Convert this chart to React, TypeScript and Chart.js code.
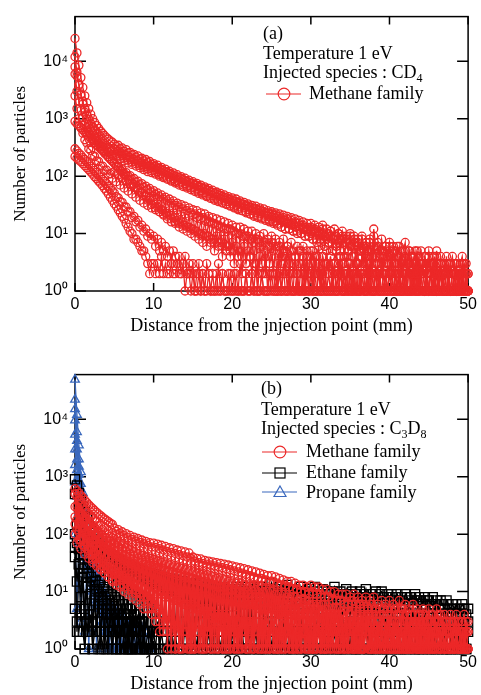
import React, { useEffect, useRef } from 'react';
import { Chart, registerables } from 'chart.js';

Chart.register(...registerables);

// ---------- axes ----------
const DIST = [
  0, 0.25, 0.5, 0.75, 1, 1.25, 1.5, 1.75, 2, 2.25, 2.5, 2.75, 3, 3.25, 3.5, 3.75, 4, 4.25, 4.5, 4.75,
  5, 5.25, 5.5, 5.75, 6, 6.25, 6.5, 6.75, 7, 7.25, 7.5, 7.75, 8, 8.25, 8.5, 8.75, 9, 9.25, 9.5, 9.75,
  10, 10.25, 10.5, 10.75, 11, 11.25, 11.5, 11.75, 12, 12.25, 12.5, 12.75, 13, 13.25, 13.5, 13.75, 14, 14.25, 14.5, 14.75,
  15, 15.25, 15.5, 15.75, 16, 16.25, 16.5, 16.75, 17, 17.25, 17.5, 17.75, 18, 18.25, 18.5, 18.75, 19, 19.25, 19.5, 19.75,
  20, 20.25, 20.5, 20.75, 21, 21.25, 21.5, 21.75, 22, 22.25, 22.5, 22.75, 23, 23.25, 23.5, 23.75, 24, 24.25, 24.5, 24.75,
  25, 25.25, 25.5, 25.75, 26, 26.25, 26.5, 26.75, 27, 27.25, 27.5, 27.75, 28, 28.25, 28.5, 28.75, 29, 29.25, 29.5, 29.75,
  30, 30.25, 30.5, 30.75, 31, 31.25, 31.5, 31.75, 32, 32.25, 32.5, 32.75, 33, 33.25, 33.5, 33.75, 34, 34.25, 34.5, 34.75,
  35, 35.25, 35.5, 35.75, 36, 36.25, 36.5, 36.75, 37, 37.25, 37.5, 37.75, 38, 38.25, 38.5, 38.75, 39, 39.25, 39.5, 39.75,
  40, 40.25, 40.5, 40.75, 41, 41.25, 41.5, 41.75, 42, 42.25, 42.5, 42.75, 43, 43.25, 43.5, 43.75, 44, 44.25, 44.5, 44.75,
  45, 45.25, 45.5, 45.75, 46, 46.25, 46.5, 46.75, 47, 47.25, 47.5, 47.75, 48, 48.25, 48.5, 48.75, 49, 49.25, 49.5, 49.75,
  50,
];
const X_TICKS = [0, 10, 20, 30, 40, 50];
const Y_TICKS = [1, 10, 100, 1000, 10000];
const Y_TICK_LABELS = ['10\u2070', '10\u00B9', '10\u00B2', '10\u00B3', '10\u2074'];
const X_TITLE = 'Distance from the jnjection point (mm)';
const Y_TITLE = 'Number of particles';

// ---------- panel (a): CD4 injection, methane family ----------
const A_M1 = [
  25000, 14000, 8500, 5200, 3500, 2500, 1900, 1500, 1200, 1000, 860, 760, 680, 610, 560, 510, 470, 440, 410, 390,
  360, 330, 345, 300, 310, 270, 290, 255, 260, 235, 240, 215, 225, 200, 205, 185, 195, 172, 180, 160,
  165, 148, 155, 136, 142, 125, 133, 118, 122, 108, 114, 100, 106, 94, 98, 87, 92, 81, 85, 76,
  80, 71, 75, 66, 70, 62, 65, 58, 61, 54, 57, 51, 53, 47, 50, 44, 47, 42, 44, 39,
  42, 37, 40, 35, 37, 33, 35, 31, 33, 29, 31, 28, 30, 26, 28, 25, 27, 23, 25, 22,
  24, 21, 23, 20, 22, 18, 21, 17, 20, 16, 19, 15, 18, 15, 17, 14, 16, 13, 15, 12,
  15, 12, 14, 11, 13, 10, 14, 9, 12, 10, 11, 8, 12, 9, 10, 8, 11, 7, 9, 8,
  10, 6, 9, 7, 8, 5, 9, 6, 7, 5, 8, 4, 12, 6, 7, 4, 8, 5, 6, 4,
  7, 3, 6, 5, 4, 6, 3, 5, 7, 2, 5, 4, 3, 5, 2, 4, 5, 3, 4, 2,
  5, 3, 4, 2, 5, 1, 4, 3, 2, 4, 1, 3, 4, 2, 3, 1, 3, 4, 2, 3,
  2,
];
const A_M2 = [
  8000, 5500, 3800, 2700, 2000, 1500, 1200, 980, 820, 700, 610, 540, 480, 440, 400, 370, 340, 318, 296, 278,
  262, 240, 250, 222, 228, 205, 212, 190, 196, 176, 182, 164, 170, 152, 158, 142, 148, 133, 138, 124,
  128, 114, 120, 106, 111, 99, 104, 92, 97, 86, 90, 80, 84, 75, 79, 70, 74, 66, 69, 62,
  64, 57, 60, 53, 56, 50, 52, 46, 49, 43, 46, 40, 43, 38, 40, 35, 38, 33, 36, 31,
  33, 29, 31, 27, 29, 25, 28, 24, 26, 22, 25, 21, 23, 20, 22, 19, 21, 18, 20, 17,
  18, 16, 17, 15, 17, 13, 16, 12, 15, 12, 14, 11, 13, 11, 12, 10, 12, 9, 11, 9,
  10, 8, 11, 7, 9, 8, 10, 6, 8, 7, 9, 5, 8, 6, 7, 5, 8, 4, 7, 5,
  6, 4, 7, 3, 6, 5, 4, 6, 3, 5, 4, 2, 6, 4, 3, 5, 2, 4, 5, 3,
  4, 2, 5, 3, 1, 4, 3, 2, 5, 1, 3, 4, 2, 3, 1, 4, 2, 3, 1, 3,
  2, 3, 1, 4, 2, 1, 3, 2, 1, 3, 2, 1, 2, 3, 1, 2, 1, 3, 1, 2,
  1,
];
const A_M3 = [
  12000, 6500, 4000, 2600, 1800, 1300, 1000, 800, 660, 560, 480, 420, 370, 330, 295, 265, 240, 218, 200, 184,
  170, 150, 148, 128, 130, 112, 115, 100, 102, 88, 91, 79, 82, 71, 74, 64, 67, 58, 61, 53,
  56, 48, 51, 44, 47, 40, 43, 37, 40, 34, 37, 31, 34, 29, 32, 27, 30, 25, 28, 23,
  26, 22, 25, 20, 23, 19, 22, 18, 20, 16, 19, 15, 18, 14, 17, 13, 16, 12, 15, 12,
  14, 11, 13, 10, 13, 9, 12, 9, 11, 8, 11, 7, 10, 8, 9, 6, 10, 7, 8, 6,
  9, 5, 8, 6, 7, 4, 8, 5, 6, 3, 7, 5, 4, 6, 3, 5, 6, 2, 5, 4,
  3, 5, 2, 4, 6, 1, 4, 3, 5, 2, 4, 1, 3, 5, 2, 4, 1, 3, 4, 2,
  3, 1, 4, 2, 3, 1, 5, 2, 1, 3, 2, 4, 1, 2, 3, 1, 4, 2, 1, 3,
  2, 1, 3, 1, 2, 4, 1, 2, 1, 3, 2, 1, 3, 1, 2, 1, 3, 2, 1, 2,
  1, 3, 1, 2, 1, 2, 3, 1, 2, 1, 1, 3, 1, 2, 1, 2, 1, 1, 3, 1,
  2,
];
const A_M4 = [
  900, 820, 760, 690, 640, 580, 540, 490, 455, 415, 385, 350, 325, 298, 276, 252, 234, 214, 198, 182,
  168, 150, 142, 126, 120, 106, 101, 89, 85, 75, 72, 63, 61, 53, 52, 45, 44, 38, 38, 32,
  33, 28, 29, 24, 26, 21, 23, 18, 21, 16, 19, 15, 17, 13, 16, 12, 14, 11, 13, 10,
  12, 9, 11, 8, 10, 7, 10, 6, 9, 7, 8, 5, 9, 6, 7, 4, 8, 5, 6, 4,
  7, 3, 6, 4, 5, 2, 6, 3, 5, 4, 2, 5, 3, 1, 4, 3, 2, 5, 1, 3,
  4, 2, 1, 3, 5, 1, 2, 4, 1, 3, 2, 1, 4, 2, 1, 3, 1, 2, 4, 1,
  2, 3, 1, 1, 4, 2, 1, 3, 1, 2, 1, 3, 2, 1, 1, 4, 1, 2, 1, 3,
  1, 2, 1, 3, 1, 1, 2, 1, 4, 1, 2, 1, 1, 3, 1, 2, 1, 1, 2, 1,
  3, 1, 1, 2, 1, 1, 3, 1, 2, 1, 1, 2, 1, 3, 1, 1, 2, 1, 1, 2,
  1, 1, 3, 1, 2, 1, 1, 2, 1, 1, 3, 1, 1, 2, 1, 1, 2, 1, 3, 1,
  1,
];
const A_M5 = [
  300, 275, 250, 232, 210, 195, 178, 164, 150, 138, 126, 116, 106, 97, 88, 81, 74, 67, 61, 56,
  51, 44, 42, 36, 35, 29, 29, 24, 24, 19, 20, 16, 17, 13, 14, 11, 12, 9, 10, 8,
  9, 6, 8, 5, 7, 5, 6, 4, 5, 3, 5, 4, 3, 4, 2, 3, 4, 2, 3, 2,
  3, 1, 2, 3, 1, 2, 1, 3, 2, 1, 2, 1, 1, 3, 1, 2, 1, 1, 2, 1,
  1, 2, 1, 1, 3, 1, 1, 2, 1, 1, 2, 1, 3, 1, 1, 2, 1, 1, 1, 2,
  1, 1, 2, 1, 1, 1, 3, 1, 1, 2, 1, 1, 1, 2, 1, 1, 2, 1, 1, 1,
  2, 1, 1, 1, 2, 1, 1, 3, 1, 1, 1, 2, 1, 1, 2, 1, 1, 1, 2, 1,
  1, 1, 2, 1, 1, 1, 2, 1, 1, 1, 3, 1, 1, 2, 1, 1, 1, 2, 1, 1,
  1, 2, 1, 1, 1, 2, 1, 1, 2, 1, 1, 1, 2, 1, 1, 3, 1, 1, 1, 2,
  1, 1, 1, 2, 1, 1, 2, 1, 1, 1, 2, 1, 1, 1, 2, 1, 1, 2, 1, 1,
  1,
];
const A_M6 = [
  220, 205, 190, 178, 165, 152, 140, 129, 118, 108, 98, 90, 82, 75, 68, 61, 55, 49, 43, 38,
  33, 30, 26, 23, 20, 18, 15, 13, 11, 10, 8, 8, 7, 6, 5, 5, 4, 3, 2, 3,
  3, 2, 3, 2, 4, 2, 3, 2, 2, 3, 2, 2, 3, 2, 2, 3, 1, 2, 2, 1,
  2, 1, 1, 2, 1, 2, 1, 1, 2, 1, 1, 1, 2, 1, 1, 2, 1, 1, 1, 2,
  1, 1, 2, 1, 1, 1, 1, 2, 1, 1, 2, 1, 1, 1, 1, 2, 1, 1, 1, 1,
  2, 1, 1, 1, 2, 1, 1, 1, 1, 2, 1, 1, 1, 2, 1, 1, 1, 1, 2, 1,
  1, 1, 2, 1, 1, 1, 2, 1, 1, 1, 1, 2, 1, 1, 1, 2, 1, 1, 1, 1,
  2, 1, 1, 1, 1, 2, 1, 1, 1, 2, 1, 1, 1, 1, 2, 1, 1, 1, 2, 1,
  1, 1, 1, 2, 1, 1, 1, 2, 1, 1, 1, 1, 2, 1, 1, 1, 2, 1, 1, 1,
  1, 2, 1, 1, 1, 1, 2, 1, 1, 1, 2, 1, 1, 1, 1, 2, 1, 1, 1, 2,
  1,
];
const A_M7 = [
  6000, 3000, 2000, 1400, 1050, 820, 700, 580, 520, 440, 420, 360, 370, 320, 330, 280, 300, 260, 275, 240,
  300, 220, 270, 200, 245, 185, 230, 170, 210, 160, 195, 150, 185, 140, 170, 130, 160, 120, 150, 115,
  150, 108, 138, 100, 128, 94, 120, 88, 112, 82, 104, 76, 97, 70, 90, 66, 84, 62, 78, 58,
  74, 54, 69, 50, 64, 47, 60, 44, 56, 41, 52, 38, 49, 36, 46, 34, 43, 32, 40, 30,
  38, 28, 36, 26, 34, 25, 32, 23, 30, 22, 28, 20, 27, 19, 25, 18, 24, 17, 23, 16,
  22, 15, 21, 14, 20, 13, 19, 12, 18, 12, 17, 11, 16, 10, 15, 10, 14, 9, 13, 9,
  13, 8, 12, 8, 11, 7, 12, 6, 10, 7, 11, 5, 9, 6, 10, 5, 9, 4, 8, 5,
  9, 4, 8, 3, 7, 5, 8, 3, 6, 4, 7, 2, 9, 3, 6, 4, 5, 2, 6, 3,
  6, 2, 5, 3, 6, 1, 5, 2, 4, 3, 5, 1, 4, 2, 5, 1, 3, 2, 4, 1,
  4, 2, 3, 1, 4, 2, 3, 1, 3, 2, 1, 3, 2, 1, 3, 1, 2, 3, 1, 2,
  1,
];
const A_M8 = [
  2500, 1500, 1000, 700, 560, 430, 380, 300, 280, 230, 220, 185, 180, 150, 150, 125, 128, 108, 110, 92,
  120, 80, 105, 70, 92, 62, 82, 55, 72, 49, 64, 43, 57, 38, 51, 34, 46, 31, 41, 28,
  44, 26, 40, 24, 36, 22, 33, 20, 30, 18, 28, 16, 26, 15, 24, 14, 22, 13, 20, 12,
  21, 11, 19, 10, 18, 9, 17, 9, 16, 8, 15, 7, 14, 7, 13, 6, 12, 6, 12, 5,
  11, 5, 10, 4, 10, 4, 9, 3, 9, 4, 8, 3, 8, 2, 7, 3, 7, 2, 6, 3,
  7, 2, 6, 1, 6, 3, 5, 2, 6, 1, 5, 2, 4, 1, 5, 2, 4, 1, 4, 2,
  5, 1, 4, 2, 3, 1, 4, 1, 3, 2, 4, 1, 3, 1, 3, 2, 3, 1, 2, 1,
  3, 1, 2, 1, 3, 1, 2, 2, 1, 3, 1, 2, 1, 1, 2, 1, 3, 1, 2, 1,
  2, 1, 1, 3, 1, 2, 1, 1, 2, 1, 3, 1, 1, 2, 1, 1, 2, 1, 1, 2,
  1, 2, 1, 1, 3, 1, 1, 2, 1, 1, 2, 1, 1, 2, 1, 1, 1, 2, 1, 1,
  1,
];

// ---------- panel (b): C3D8 injection ----------
const B_METHANE_1 = [
  620, 570, 520, 470, 430, 390, 355, 325, 300, 278, 258, 240, 225, 210, 197, 185, 175, 165, 156, 148,
  128, 112, 120, 102, 110, 94, 102, 87, 95, 81, 89, 76, 84, 72, 79, 68, 75, 64, 71, 60,
  70, 59, 67, 56, 64, 53, 61, 50, 58, 48, 56, 46, 53, 44, 51, 42, 49, 40, 47, 38,
  40, 34, 38, 32, 37, 31, 35, 30, 34, 29, 33, 28, 32, 27, 31, 26, 30, 25, 29, 24,
  28, 23, 27, 22, 26, 21, 25, 20, 24, 19, 23, 18, 22, 17, 21, 17, 20, 16, 19, 15,
  19, 15, 18, 14, 17, 13, 16, 13, 15, 12, 15, 11, 14, 11, 13, 10, 13, 10, 12, 9,
  13, 10, 12, 9, 12, 9, 11, 8, 11, 8, 10, 7, 10, 7, 9, 7, 9, 6, 9, 6,
  8, 6, 9, 5, 8, 6, 7, 5, 8, 5, 7, 4, 8, 5, 6, 4, 7, 5, 6, 4,
  7, 4, 6, 5, 4, 7, 5, 4, 6, 3, 5, 4, 6, 3, 5, 4, 3, 5, 4, 3,
  5, 3, 4, 2, 5, 3, 4, 2, 4, 3, 2, 4, 3, 2, 4, 3, 2, 3, 4, 2,
  3,
];
const B_METHANE_2 = [
  300, 180, 250, 150, 210, 120, 180, 100, 150, 85, 130, 70, 110, 60, 95, 52, 85, 45, 75, 40,
  68, 35, 60, 30, 55, 26, 50, 23, 45, 20, 42, 18, 38, 16, 35, 15, 33, 13, 31, 12,
  29, 11, 27, 10, 26, 9, 24, 9, 23, 8, 22, 7, 21, 7, 20, 6, 19, 6, 18, 5,
  17, 5, 16, 5, 15, 4, 15, 4, 14, 4, 13, 3, 13, 3, 12, 3, 12, 3, 11, 2,
  11, 2, 10, 3, 10, 2, 9, 2, 9, 3, 8, 2, 8, 1, 8, 2, 7, 2, 7, 1,
  7, 2, 6, 1, 6, 2, 6, 1, 5, 2, 5, 1, 5, 2, 5, 1, 4, 2, 4, 1,
  4, 1, 4, 2, 4, 1, 3, 1, 4, 2, 3, 1, 3, 1, 3, 2, 3, 1, 3, 1,
  3, 1, 2, 1, 3, 1, 2, 1, 3, 1, 2, 1, 2, 1, 3, 1, 2, 1, 2, 1,
  2, 1, 3, 1, 2, 1, 2, 1, 2, 1, 3, 1, 2, 1, 2, 1, 2, 1, 2, 1,
  2, 1, 2, 1, 2, 1, 1, 2, 1, 2, 1, 1, 2, 1, 2, 1, 1, 2, 1, 1,
  1,
];
const B_METHANE_3 = [
  150, 70, 110, 55, 85, 45, 70, 38, 58, 32, 48, 28, 40, 24, 35, 21, 30, 18, 26, 16,
  24, 15, 21, 13, 19, 12, 17, 11, 15, 10, 14, 9, 13, 8, 12, 7, 11, 6, 10, 5,
  10, 4, 9, 3, 9, 2, 8, 2, 8, 1, 7, 1, 7, 1, 7, 2, 6, 1, 6, 1,
  6, 1, 5, 2, 5, 1, 5, 1, 5, 1, 4, 2, 4, 1, 4, 1, 4, 1, 4, 1,
  3, 1, 4, 1, 3, 2, 3, 1, 3, 1, 3, 1, 3, 2, 3, 1, 3, 1, 2, 1,
  3, 1, 2, 1, 3, 1, 2, 1, 2, 1, 3, 1, 2, 1, 2, 1, 2, 1, 3, 1,
  2, 1, 2, 1, 2, 1, 2, 1, 1, 2, 1, 2, 1, 2, 1, 1, 2, 1, 2, 1,
  1, 2, 1, 2, 1, 1, 2, 1, 2, 1, 1, 2, 1, 1, 2, 1, 2, 1, 1, 2,
  1, 1, 2, 1, 2, 1, 1, 2, 1, 1, 2, 1, 1, 2, 1, 1, 2, 1, 1, 2,
  1, 2, 1, 1, 2, 1, 1, 2, 1, 1, 1, 2, 1, 1, 2, 1, 1, 1, 2, 1,
  1,
];
const B_METHANE_4 = [
  500, 120, 380, 80, 300, 60, 240, 45, 200, 36, 170, 30, 140, 25, 120, 21, 105, 18, 92, 15,
  85, 13, 75, 12, 68, 10, 60, 9, 55, 8, 50, 7, 46, 6, 43, 5, 40, 5, 38, 4,
  36, 3, 34, 2, 32, 2, 30, 1, 29, 2, 27, 1, 26, 1, 25, 1, 24, 2, 23, 1,
  22, 1, 21, 1, 20, 1, 19, 2, 18, 1, 18, 1, 17, 1, 16, 1, 16, 1, 15, 1,
  14, 1, 14, 1, 13, 1, 13, 1, 12, 2, 12, 1, 11, 1, 11, 1, 10, 1, 10, 1,
  10, 1, 9, 1, 9, 1, 9, 2, 8, 1, 8, 1, 8, 1, 7, 1, 7, 1, 7, 1,
  6, 1, 6, 1, 6, 1, 6, 1, 5, 1, 5, 2, 5, 1, 5, 1, 4, 1, 5, 1,
  4, 1, 5, 1, 4, 1, 4, 1, 4, 2, 4, 1, 4, 1, 3, 1, 4, 1, 3, 1,
  4, 1, 3, 1, 3, 1, 4, 1, 3, 1, 3, 1, 3, 2, 3, 1, 3, 1, 3, 1,
  3, 1, 2, 1, 3, 1, 2, 1, 3, 1, 2, 1, 2, 1, 3, 1, 2, 1, 2, 1,
  2,
];
const B_METHANE_5 = [
  200, 450, 160, 340, 130, 270, 110, 220, 95, 190, 80, 165, 70, 145, 62, 130, 55, 115, 50, 105,
  45, 100, 40, 92, 37, 85, 34, 78, 31, 72, 29, 67, 27, 62, 25, 58, 23, 55, 22, 52,
  21, 50, 20, 47, 19, 45, 18, 43, 17, 41, 16, 39, 15, 37, 14, 35, 13, 34, 13, 32,
  12, 31, 12, 29, 11, 28, 11, 27, 10, 26, 10, 25, 9, 24, 9, 23, 8, 22, 8, 21,
  8, 20, 7, 19, 7, 19, 7, 18, 6, 17, 6, 17, 6, 16, 5, 15, 5, 15, 5, 14,
  5, 14, 4, 13, 4, 13, 4, 12, 4, 12, 3, 11, 3, 11, 3, 10, 3, 10, 3, 9,
  3, 9, 2, 9, 3, 8, 2, 8, 2, 8, 2, 7, 2, 7, 2, 7, 2, 6, 2, 6,
  2, 7, 1, 6, 2, 6, 1, 6, 2, 5, 1, 6, 2, 5, 1, 5, 2, 5, 1, 5,
  2, 5, 1, 5, 1, 4, 2, 5, 1, 4, 1, 4, 2, 4, 1, 4, 1, 4, 2, 3,
  1, 4, 1, 3, 2, 4, 1, 3, 1, 3, 2, 3, 1, 3, 1, 3, 1, 2, 1, 3,
  2,
];
const B_METHANE_6 = [
  100, 300, 80, 220, 65, 170, 55, 140, 45, 115, 38, 95, 32, 82, 28, 72, 25, 64, 22, 58,
  20, 52, 18, 47, 16, 43, 14, 40, 12, 37, 11, 34, 10, 32, 9, 30, 8, 28, 7, 27,
  6, 26, 5, 24, 4, 23, 3, 22, 3, 21, 2, 20, 2, 19, 1, 18, 2, 18, 1, 17,
  1, 16, 2, 16, 1, 15, 1, 14, 2, 14, 1, 13, 1, 13, 2, 12, 1, 12, 1, 11,
  2, 11, 1, 10, 1, 10, 2, 10, 1, 9, 1, 9, 2, 9, 1, 8, 1, 8, 1, 8,
  2, 7, 1, 7, 1, 7, 1, 6, 2, 6, 1, 6, 1, 6, 1, 5, 2, 5, 1, 5,
  1, 5, 1, 5, 2, 4, 1, 4, 1, 4, 1, 4, 2, 4, 1, 4, 1, 3, 1, 3,
  2, 3, 1, 3, 1, 3, 1, 3, 2, 3, 1, 3, 1, 2, 1, 3, 1, 2, 2, 3,
  1, 2, 1, 3, 1, 2, 1, 2, 1, 3, 1, 2, 1, 2, 1, 2, 1, 3, 1, 2,
  1, 2, 1, 2, 1, 2, 1, 2, 1, 2, 1, 1, 2, 1, 2, 1, 1, 2, 1, 2,
  1,
];
const B_ETHANE_1 = [
  900, 700, 520, 400, 300, 240, 190, 155, 128, 108, 92, 80, 70, 63, 57, 52, 48, 45, 42, 40,
  38, 36, 34, 33, 31, 30, 29, 28, 27, 26, 26, 25, 24, 24, 23, 22, 22, 21, 21, 20,
  20, 19, 19, 18, 18, 18, 17, 17, 17, 16, 16, 16, 15, 15, 15, 15, 14, 14, 14, 14,
  14, 12, 13, 11, 14, 12, 12, 10, 13, 11, 12, 10, 12, 11, 11, 9, 12, 10, 11, 9,
  11, 10, 12, 9, 11, 10, 10, 9, 12, 9, 10, 11, 9, 10, 12, 9, 10, 9, 11, 10,
  14, 10, 11, 9, 12, 10, 9, 11, 13, 9, 10, 8, 11, 10, 9, 12, 10, 8, 9, 11,
  10, 9, 12, 8, 10, 9, 11, 8, 10, 9, 8, 10, 12, 8, 9, 10, 8, 9, 11, 8,
  9, 10, 8, 9, 7, 10, 8, 9, 11, 7, 8, 9, 7, 10, 8, 9, 10, 8, 7, 9,
  8, 9, 7, 8, 9, 7, 8, 6, 9, 8, 7, 8, 6, 9, 7, 8, 7, 6, 8, 7,
  7, 6, 8, 6, 7, 5, 7, 6, 5, 7, 6, 5, 6, 5, 6, 4, 5, 6, 5, 4,
  5,
];
const B_ETHANE_2 = [
  500, 150, 300, 90, 200, 60, 140, 42, 105, 30, 80, 22, 62, 16, 50, 12, 42, 9, 36, 7,
  31, 6, 28, 5, 25, 4, 23, 4, 21, 3, 19, 3, 18, 2, 17, 2, 16, 2, 15, 1,
  14, 2, 14, 1, 13, 2, 12, 1, 12, 1, 11, 2, 11, 1, 10, 1, 10, 2, 10, 1,
  9, 1, 9, 2, 9, 1, 8, 1, 8, 2, 8, 1, 8, 1, 7, 2, 7, 1, 7, 1,
  7, 1, 7, 2, 6, 1, 7, 1, 6, 1, 6, 2, 6, 1, 7, 1, 6, 1, 6, 2,
  6, 1, 7, 1, 6, 2, 5, 1, 6, 1, 6, 1, 5, 2, 6, 1, 5, 1, 6, 1,
  6, 1, 5, 2, 6, 1, 5, 1, 6, 1, 5, 2, 5, 1, 6, 1, 5, 1, 5, 2,
  5, 1, 6, 1, 5, 1, 5, 2, 6, 1, 5, 1, 5, 1, 6, 2, 5, 1, 5, 1,
  5, 1, 5, 2, 4, 1, 5, 1, 6, 1, 4, 2, 5, 1, 5, 1, 4, 1, 5, 2,
  4, 1, 5, 1, 4, 2, 4, 1, 5, 1, 4, 1, 4, 2, 4, 1, 4, 1, 3, 1,
  3,
];
const B_ETHANE_3 = [
  60, 15, 30, 8, 18, 5, 12, 4, 9, 3, 7, 2, 6, 2, 5, 1, 4, 2, 4, 1,
  3, 1, 3, 2, 3, 1, 2, 1, 3, 1, 2, 2, 1, 3, 1, 2, 1, 2, 1, 1,
  2, 1, 3, 1, 2, 1, 1, 2, 1, 3, 1, 2, 1, 1, 2, 1, 3, 1, 2, 1,
  1, 2, 1, 3, 1, 1, 2, 1, 2, 1, 3, 1, 1, 2, 1, 2, 1, 3, 1, 1,
  2, 1, 1, 3, 1, 2, 1, 1, 2, 1, 3, 1, 2, 1, 1, 2, 1, 2, 1, 3,
  1, 2, 1, 1, 2, 1, 3, 1, 1, 2, 1, 2, 1, 3, 1, 1, 2, 1, 2, 1,
  3, 1, 2, 1, 1, 2, 1, 3, 1, 2, 1, 1, 2, 1, 3, 1, 1, 2, 1, 2,
  1, 3, 1, 1, 2, 1, 2, 1, 3, 1, 1, 2, 1, 2, 1, 3, 1, 1, 2, 1,
  2, 1, 3, 1, 1, 2, 1, 2, 1, 3, 1, 2, 1, 1, 2, 1, 3, 1, 2, 1,
  1, 2, 1, 3, 1, 1, 2, 1, 2, 1, 3, 1, 1, 2, 1, 2, 1, 3, 1, 1,
  2,
];
const B_ETHANE_4 = [
  100, 70, 55, 45, 38, 30, 26, 21, 18, 15, 13, 11, 10, 8, 7, 6, 5, 5, 4, 4,
  3, 4, 3, 2, 3, 2, 3, 2, 1, 2, 2, 1, 2, 1, 1, 2, 1, 1, 2, 1, 1,
];
const B_ETHANE_5 = [5, 3, 2, 4, 2, 1, 3, 2, 4, 1, 2, 3, 1, 2, 1, 3, 1, 2, 2, 1, 3, 1, 2, 1, 1, 2, 1, 3, 1, 1, 2];
const B_ETHANE_6 = [
  40, 2, 30, 3, 25, 1, 20, 2, 18, 1, 15, 2, 13, 1, 11, 2, 10, 1, 9, 2,
  8, 1, 7, 1, 6, 2, 5, 1, 5, 1, 4, 2, 4, 1, 3, 1, 3, 2, 2, 1, 2,
];
const B_PROPANE_1 = [49000, 12000, 3500, 1200, 520, 260, 150, 95, 62, 44, 32, 24, 18, 14, 11, 9, 8, 7, 6, 5, 4, 4, 3, 4, 3, 2, 3, 2, 2, 3, 2, 1, 2, 1, 2, 1, 1, 2, 1];
const B_PROPANE_2 = [22000, 6000, 2000, 750, 330, 170, 100, 65, 45, 32, 24, 18, 14, 11, 9, 7, 6, 5, 4, 4, 3, 3, 2, 3, 2, 2, 1, 2, 1, 2, 1, 1];
const B_PROPANE_3 = [15000, 4200, 1500, 600, 270, 140, 82, 54, 37, 27, 20, 15, 12, 9, 7, 6, 5, 4, 4, 3, 3, 2, 2, 3, 1, 2, 1];
const B_PROPANE_4 = [9600, 3000, 1100, 450, 210, 110, 66, 43, 30, 22, 16, 12, 10, 8, 6, 5, 4, 4, 3, 2, 2, 3, 1, 2];
const B_PROPANE_5 = [5400, 2000, 800, 340, 165, 88, 53, 35, 25, 18, 14, 11, 8, 7, 5, 4, 4, 3, 2, 2, 1];
const B_PROPANE_6 = [3000, 1300, 560, 250, 125, 68, 42, 28, 20, 15, 11, 9, 7, 5, 4, 3, 3, 2, 2, 1];
const B_PROPANE_7 = [1600, 800, 380, 180, 95, 54, 34, 23, 17, 12, 9, 7, 6, 4, 3, 3, 2, 2, 1];
const B_PROPANE_8 = [800, 450, 240, 125, 70, 42, 27, 19, 14, 10, 8, 6, 5, 4, 3, 2, 2, 1];
const B_PROPANE_9 = [100, 5, 60, 3, 40, 2, 30, 1, 22, 2, 16, 1, 12, 1, 10, 2, 8, 1, 6, 1, 5, 2, 4, 1, 4, 1, 3, 2, 3, 1, 2, 1, 2, 1, 3, 1, 2];

// ---------- styles ----------
const RED = '#ec2828';
const BLACK = '#000000';
const BLUE = '#3a68bd';
const SERIF = "'Liberation Serif', 'Times New Roman', serif";
const SANS = "'Liberation Sans', Arial, sans-serif";

function series(values: number[], color: string, style: string, radius: number) {
  return {
    data: values.map((v, i) => ({ x: DIST[i], y: v })),
    borderColor: color,
    backgroundColor: 'rgba(0,0,0,0)',
    pointBorderColor: color,
    pointBackgroundColor: 'rgba(0,0,0,0)',
    pointStyle: style,
    pointRadius: radius,
    pointBorderWidth: 1.3,
    borderWidth: 1.3,
    fill: false,
    clip: 8,
  };
}

function panelA() {
  return [A_M1, A_M2, A_M7, A_M3, A_M8, A_M4, A_M5, A_M6].map((s) => series(s, RED, 'circle', 4));
}
function panelB() {
  const red = [B_METHANE_1, B_METHANE_5, B_METHANE_2, B_METHANE_6, B_METHANE_3, B_METHANE_4].map((s) =>
    series(s, RED, 'circle', 4)
  );
  const black = [B_ETHANE_1, B_ETHANE_2, B_ETHANE_3, B_ETHANE_4, B_ETHANE_5, B_ETHANE_6].map((s) => series(s, BLACK, 'rect', 6.5));
  const blue = [
    B_PROPANE_1, B_PROPANE_2, B_PROPANE_3, B_PROPANE_4, B_PROPANE_5, B_PROPANE_6, B_PROPANE_7, B_PROPANE_8, B_PROPANE_9,
  ].map((s) => series(s, BLUE, 'triangle', 5));
  return [...red, ...black, ...blue];
}

const framePlugin = {
  id: 'frameTicks',
  beforeDatasetsDraw(chart: any) {
    const { ctx, chartArea: a, scales } = chart;
    ctx.save();
    ctx.strokeStyle = '#000';
    ctx.lineWidth = 1.5;
    ctx.strokeRect(a.left, a.top, a.right - a.left, a.bottom - a.top);
    ctx.beginPath();
    for (const v of X_TICKS) {
      const px = scales.x.getPixelForValue(v);
      ctx.moveTo(px, a.bottom);
      ctx.lineTo(px, a.bottom - 8);
      ctx.moveTo(px, a.top);
      ctx.lineTo(px, a.top + 8);
    }
    for (const v of Y_TICKS) {
      const py = scales.y.getPixelForValue(v);
      ctx.moveTo(a.left, py);
      ctx.lineTo(a.left + 11, py);
      ctx.moveTo(a.right, py);
      ctx.lineTo(a.right - 11, py);
    }
    ctx.stroke();
    ctx.restore();
  },
};

function makeOptions(): any {
  return {
    animation: false,
    responsive: false,
    maintainAspectRatio: false,
    layout: { padding: { left: 0, right: 11, top: 8, bottom: 0 } },
    plugins: { legend: { display: false }, tooltip: { enabled: false } },
    scales: {
      x: {
        type: 'linear',
        min: 0,
        max: 50,
        afterBuildTicks: (s: any) => {
          s.ticks = X_TICKS.map((v) => ({ value: v }));
        },
        afterFit: (s: any) => {
          s.height = 46;
        },
        grid: { display: false, drawTicks: false },
        border: { display: false },
        ticks: { color: '#000', font: { family: SANS, size: 16 }, padding: 4, maxRotation: 0, autoSkip: false },
        title: { display: true, text: X_TITLE, color: '#000', font: { family: SERIF, size: 18 }, padding: 0 },
      },
      y: {
        type: 'logarithmic',
        min: 1,
        max: 60000,
        afterBuildTicks: (s: any) => {
          s.ticks = Y_TICKS.map((v) => ({ value: v }));
        },
        afterFit: (s: any) => {
          s.width = 75;
        },
        grid: { display: false, drawTicks: false },
        border: { display: false },
        ticks: {
          color: '#000',
          font: { family: SANS, size: 16 },
          padding: 7,
          autoSkip: false,
          callback: (v: any) => {
            const i = Y_TICKS.indexOf(Number(v));
            return i >= 0 ? Y_TICK_LABELS[i] : '';
          },
        },
        title: { display: true, text: Y_TITLE, color: '#000', font: { family: SERIF, size: 17 }, padding: { top: 10, bottom: 0 } },
      },
    },
  };
}

function Panel({ build, top }: { build: () => any[]; top: number }) {
  const ref = useRef<HTMLCanvasElement>(null);
  useEffect(() => {
    const chart = new Chart(ref.current as HTMLCanvasElement, {
      type: 'line',
      data: { datasets: build() },
      options: makeOptions(),
      plugins: [framePlugin],
    } as any);
    return () => chart.destroy();
  }, []);
  return (
    <canvas
      ref={ref}
      width={481}
      height={337}
      style={{ position: 'absolute', left: 0, top, width: 481, height: 337 }}
    />
  );
}

const textStyle: React.CSSProperties = {
  position: 'absolute',
  fontFamily: SERIF,
  fontSize: 18,
  lineHeight: '20px',
  color: '#000',
  whiteSpace: 'nowrap',
};
const subStyle: React.CSSProperties = { fontSize: 12, position: 'relative', top: 4 };

function Marker({ x, y, color, shape }: { x: number; y: number; color: string; shape: string }) {
  return (
    <svg style={{ position: 'absolute', left: x - 20, top: y - 10 }} width={40} height={20}>
      <line x1={2} y1={10} x2={37} y2={10} stroke={color} strokeWidth={1.2} />
      {shape === 'circle' && <circle cx={20} cy={10} r={5.8} fill="none" stroke={color} strokeWidth={1.2} />}
      {shape === 'rect' && <rect x={15} y={5} width={10} height={10} fill="none" stroke={color} strokeWidth={1.2} />}
      {shape === 'triangle' && <polygon points="20,4 26,14.5 14,14.5" fill="none" stroke={color} strokeWidth={1.2} />}
    </svg>
  );
}

export default function App() {
  return (
    <div style={{ position: 'absolute', left: 0, top: 0, width: 481, height: 695, background: '#fff', overflow: 'hidden' }}>
      <Panel build={panelA} top={0} />
      <Panel build={panelB} top={358} />

      {/* panel (a) annotations */}
      <div style={{ ...textStyle, left: 263, top: 23 }}>(a)</div>
      <div style={{ ...textStyle, left: 263, top: 43 }}>Temperature 1 eV</div>
      <div style={{ ...textStyle, left: 263, top: 62 }}>
        Injected species : CD<span style={subStyle}>4</span>
      </div>
      <Marker x={284} y={93.5} color={RED} shape="circle" />
      <div style={{ ...textStyle, left: 309, top: 83 }}>Methane family</div>

      {/* panel (b) annotations */}
      <div style={{ ...textStyle, left: 261, top: 378 }}>(b)</div>
      <div style={{ ...textStyle, left: 261, top: 399 }}>Temperature 1 eV</div>
      <div style={{ ...textStyle, left: 261, top: 418 }}>
        Injected species : C<span style={subStyle}>3</span>D<span style={subStyle}>8</span>
      </div>
      <Marker x={280} y={451.5} color={RED} shape="circle" />
      <div style={{ ...textStyle, left: 306, top: 441 }}>Methane family</div>
      <Marker x={280} y={472.5} color={BLACK} shape="rect" />
      <div style={{ ...textStyle, left: 306, top: 462 }}>Ethane family</div>
      <Marker x={280} y={492} color={BLUE} shape="triangle" />
      <div style={{ ...textStyle, left: 306, top: 482 }}>Propane family</div>
    </div>
  );
}
